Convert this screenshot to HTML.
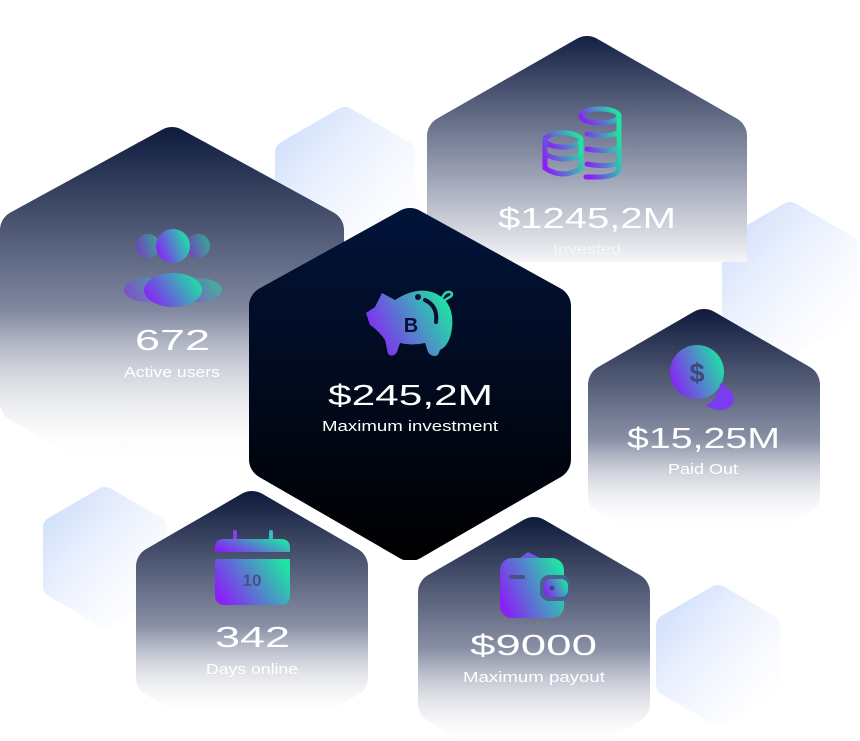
<!DOCTYPE html>
<html><head><meta charset="utf-8"><style>
html,body{margin:0;padding:0;background:#fff;width:860px;height:741px;overflow:hidden}
svg{display:block}
.n{font-family:"Liberation Sans",sans-serif;fill:#fff;font-size:29px;}
.l{font-family:"Liberation Sans",sans-serif;fill:#fff;font-size:15px;}
</style></head><body>
<svg width="860" height="741" viewBox="0 0 860 741" xmlns="http://www.w3.org/2000/svg">
<defs>
<linearGradient id="ic" x1="0" y1="0.7" x2="1" y2="0.3"><stop offset="0" stop-color="#8a1ff7"/><stop offset="1" stop-color="#1fe3a3"/></linearGradient>
<linearGradient id="gL" gradientUnits="userSpaceOnUse" x1="0" y1="120" x2="0" y2="465"><stop offset="0" stop-color="#0a1739"/><stop offset="0.55" stop-color="#8088a0"/><stop offset="1" stop-color="#ffffff" stop-opacity="0"/></linearGradient>
<linearGradient id="gC" gradientUnits="userSpaceOnUse" x1="0" y1="200" x2="0" y2="555"><stop offset="0" stop-color="#02143c"/><stop offset="1" stop-color="#000"/></linearGradient>
<linearGradient id="gI" gradientUnits="userSpaceOnUse" x1="0" y1="30" x2="0" y2="262"><stop offset="0" stop-color="#0e1b40"/><stop offset="0.55" stop-color="#8a91a6"/><stop offset="1" stop-color="#f4f5f8"/></linearGradient>
<linearGradient id="gP" gradientUnits="userSpaceOnUse" x1="0" y1="305" x2="0" y2="530"><stop offset="0" stop-color="#0b1739"/><stop offset="0.6" stop-color="#8a91a6"/><stop offset="1" stop-color="#fff" stop-opacity="0"/></linearGradient>
<linearGradient id="gD" gradientUnits="userSpaceOnUse" x1="0" y1="488" x2="0" y2="720"><stop offset="0" stop-color="#0b1739"/><stop offset="0.6" stop-color="#8a91a6"/><stop offset="1" stop-color="#fff" stop-opacity="0"/></linearGradient>
<linearGradient id="gW" gradientUnits="userSpaceOnUse" x1="0" y1="513" x2="0" y2="741"><stop offset="0" stop-color="#0b1739"/><stop offset="0.6" stop-color="#8a91a6"/><stop offset="1" stop-color="#fff" stop-opacity="0.2"/></linearGradient>
<linearGradient id="gB" x1="0" y1="0" x2="1" y2="1"><stop offset="0" stop-color="#c4d6fa"/><stop offset="0.6" stop-color="#eef3fe" stop-opacity="0.6"/><stop offset="1" stop-color="#fff" stop-opacity="0"/></linearGradient>
<mask id="m1"><polygon stroke-linejoin="round" stroke-width="24" fill="#fff" stroke="#fff" points="345,119 403,152.5 403,219.5 345,253 287,219.5 287,152.5"/></mask>
<mask id="m2"><polygon stroke-linejoin="round" stroke-width="24" fill="#fff" stroke="#fff" points="790,214 846,246.5 846,311.5 790,344 734,311.5 734,246.5"/></mask>
<mask id="m3"><polygon stroke-linejoin="round" stroke-width="24" fill="#fff" stroke="#fff" points="105,499 155,528 155,586 105,615 55,586 55,528"/></mask>
<mask id="m4"><polygon stroke-linejoin="round" stroke-width="24" fill="#fff" stroke="#fff" points="718,597 768,626 768,684 718,713 668,684 668,626"/></mask>
<mask id="mL"><polygon stroke-linejoin="round" stroke-width="40" fill="#fff" stroke="#fff" points="172,147 324,230 324,402.5 172,490 20,402.5 20,230"/></mask>
<clipPath id="cI"><rect x="0" y="0" width="860" height="262"/></clipPath>
<mask id="mI2"><polygon stroke-linejoin="round" stroke-width="40" fill="#fff" stroke="#fff" points="587,56 727,136 727,291 587,372 447,291 447,136"/></mask>
<mask id="mP"><polygon stroke-linejoin="round" stroke-width="40" fill="#fff" stroke="#fff" points="704,329 800,384.5 800,495.5 704,551 608,495.5 608,384.5"/></mask>
<mask id="mD"><polygon stroke-linejoin="round" stroke-width="40" fill="#fff" stroke="#fff" points="252,511 348,566.5 348,677.5 252,733 156,677.5 156,566.5"/></mask>
<mask id="mW"><polygon stroke-linejoin="round" stroke-width="40" fill="#fff" stroke="#fff" points="534,537 630,592.5 630,703.5 534,759 438,703.5 438,592.5"/></mask>
<mask id="mC"><polygon stroke-linejoin="round" stroke-width="40" fill="#fff" stroke="#fff" points="410,228 551,306 551,459.5 410,541 269,459.5 269,306"/></mask>
</defs>

<rect x="270" y="100" width="150" height="165" fill="url(#gB)" mask="url(#m1)"/>
<rect x="718" y="198" width="142" height="160" fill="url(#gB)" mask="url(#m2)"/>
<rect x="40" y="484" width="130" height="145" fill="url(#gB)" mask="url(#m3)"/>
<rect x="652" y="582" width="130" height="145" fill="url(#gB)" mask="url(#m4)"/>

<rect x="0" y="100" width="350" height="420" fill="url(#gL)" mask="url(#mL)"/>
<g clip-path="url(#cI)"><rect x="420" y="20" width="340" height="260" fill="url(#gI)" mask="url(#mI2)"/></g>
<rect x="580" y="300" width="250" height="270" fill="url(#gP)" mask="url(#mP)"/>
<rect x="130" y="480" width="250" height="261" fill="url(#gD)" mask="url(#mD)"/>
<rect x="410" y="505" width="250" height="236" fill="url(#gW)" mask="url(#mW)"/>
<rect x="240" y="190" width="340" height="370" fill="url(#gC)" mask="url(#mC)"/>

<g fill="url(#ic)">
<circle cx="148" cy="246" r="12" opacity="0.55"/><circle cx="198" cy="246" r="12" opacity="0.55"/>
<ellipse cx="148" cy="290" rx="24" ry="12" opacity="0.55"/><ellipse cx="198" cy="290" rx="24" ry="12" opacity="0.55"/>
<circle cx="173" cy="246" r="17"/>
<ellipse cx="173" cy="290" rx="29" ry="17"/>
</g>
<text class="n" x="135" y="350" textLength="75" lengthAdjust="spacingAndGlyphs">672</text>
<text class="l" x="124" y="377" textLength="96" lengthAdjust="spacingAndGlyphs">Active users</text>

<g fill="url(#ic)">
<path d="M382,293 L395,300 Q415,287 432,292 Q455,300 452,328 Q450,345 440,350 L438,355 Q432,358 428,352 L425,343 Q412,346 400,343 L397,352 Q393,358 388,354 L385,340 Q378,330 370,325 L366,313 L375,307 Z"/>
<path d="M442,298 q3,-7 8,-6 q4,2 0,5 q-4,2 -6,4" fill="none" stroke="#2ad6a8" stroke-width="2.5"/>
</g>
<text x="411" y="332" font-family="Liberation Sans,sans-serif" font-weight="bold" font-size="20" fill="#0b1030" text-anchor="middle">B</text>
<circle cx="418" cy="297" r="3" fill="#0b1030"/>
<path d="M425,300 Q438,306 436,322" stroke="#0b1030" stroke-width="4" fill="none" stroke-linecap="round"/>
<text class="n" x="328" y="405" textLength="165" lengthAdjust="spacingAndGlyphs">$245,2M</text>
<text class="l" x="322" y="431" textLength="176" lengthAdjust="spacingAndGlyphs">Maximum investment</text>

<g fill="none" stroke="url(#ic)" stroke-width="5" stroke-linecap="round">
<ellipse cx="600" cy="116" rx="19" ry="7"/>
<path d="M619,116 V168 q0,8 -19,9 h-14 M587,134 q24,4 32,-2 M587,149 q24,4 32,-2 M587,164 q24,4 32,-2"/>
<ellipse cx="563" cy="140" rx="18" ry="7"/>
<path d="M545,140 V168 q18,12 36,0 V140 M545,154 q18,10 36,0"/>
</g>
<text class="n" x="498" y="228" textLength="178" lengthAdjust="spacingAndGlyphs">$1245,2M</text>
<text class="l" x="553" y="254" textLength="68" lengthAdjust="spacingAndGlyphs" opacity="0.6">Invested</text>

<circle cx="697" cy="372" r="27" fill="url(#ic)"/>
<path d="M720,383 Q740,395 732,405 Q722,415 705,405 Q718,402 720,383 Z" fill="#7a3cf0"/>
<text x="697" y="382" font-family="Liberation Sans,sans-serif" font-weight="bold" font-size="27" fill="#3c4a78" text-anchor="middle">$</text>
<text class="n" x="627" y="448" textLength="153" lengthAdjust="spacingAndGlyphs">$15,25M</text>
<text class="l" x="668" y="474" textLength="70" lengthAdjust="spacingAndGlyphs">Paid Out</text>

<rect x="233" y="530" width="4" height="12" rx="2" fill="#8a3cf0"/><rect x="269" y="530" width="4" height="12" rx="2" fill="#3cb8c0"/>
<path d="M215,552 V548 q0,-9 9,-9 h57 q9,0 9,9 v4 Z" fill="url(#ic)"/>
<path d="M215,559 h75 v36 q0,10 -10,10 h-55 q-10,0 -10,-10 Z" fill="url(#ic)"/>
<text x="252" y="586" font-family="Liberation Sans,sans-serif" font-weight="bold" font-size="17" fill="#4a4f8a" text-anchor="middle">10</text>
<text class="n" x="215" y="647" textLength="75" lengthAdjust="spacingAndGlyphs">342</text>
<text class="l" x="206" y="674" textLength="92" lengthAdjust="spacingAndGlyphs">Days online</text>

<path d="M520,558 L528,552 L540,558 Z" fill="#6a5ae0"/>
<rect x="500" y="558" width="64" height="60" rx="12" fill="url(#ic)"/>
<rect x="540" y="575" width="30" height="26" rx="9" fill="#4a6090"/>
<rect x="544" y="579" width="24" height="18" rx="7" fill="url(#ic)"/>
<circle cx="552" cy="588" r="2.5" fill="#3a4a80"/>
<rect x="509" y="575" width="16" height="4" rx="2" fill="#4a4f8a"/>
<text class="n" x="470" y="655" textLength="127" lengthAdjust="spacingAndGlyphs">$9000</text>
<text class="l" x="463" y="682" textLength="142" lengthAdjust="spacingAndGlyphs">Maximum payout</text>
</svg>
</body></html>
